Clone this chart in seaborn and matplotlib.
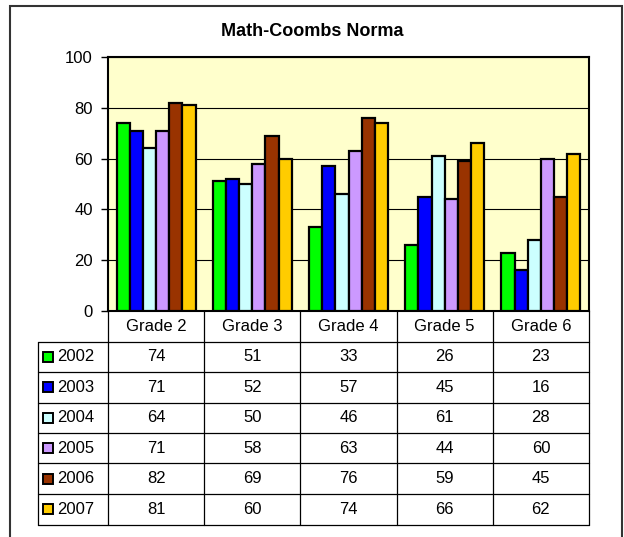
import matplotlib
matplotlib.use("Agg")
import matplotlib.pyplot as plt
import matplotlib.patches as mpatches
import pandas as pd
import seaborn as sns

grades = ["Grade 2", "Grade 3", "Grade 4", "Grade 5", "Grade 6"]
years = ["2002", "2003", "2004", "2005", "2006", "2007"]
scores_2002 = [74, 51, 33, 26, 23]
scores_2003 = [71, 52, 57, 45, 16]
scores_2004 = [64, 50, 46, 61, 28]
scores_2005 = [71, 58, 63, 44, 60]
scores_2006 = [82, 69, 76, 59, 45]
scores_2007 = [81, 60, 74, 66, 62]
colors = ["#00FF00", "#0000FF", "#CCFFFF", "#CC99FF", "#993300", "#FFCC00"]

series = [scores_2002, scores_2003, scores_2004, scores_2005, scores_2006, scores_2007]
rows = []
for yr, vals in zip(years, series):
    for g, v in zip(grades, vals):
        rows.append({"grade": g, "year": yr, "score": v})
df = pd.DataFrame(rows)

sns.set_style("white")
plt.rcParams["font.family"] = ["Liberation Sans", "DejaVu Sans"]
plt.rcParams["text.color"] = "black"
plt.rcParams["ytick.color"] = "black"
plt.rcParams["ytick.labelcolor"] = "black"

fig = plt.figure(figsize=(6.24, 5.37), dpi=100)
ax = fig.add_axes([108 / 624, 1 - 311 / 537, 481 / 624, 254 / 537])
ax.set_facecolor("#FFFFCC")

sns.barplot(data=df, x="grade", y="score", hue="year", order=grades,
            hue_order=years, palette=colors, width=0.82, edgecolor="black",
            linewidth=1.6, saturation=1, legend=False, ax=ax, zorder=3)

ax.set_xlim(-0.5, len(grades) - 0.5)
ax.set_ylim(0, 100)
ax.set_yticks(range(0, 101, 20))
ax.yaxis.grid(True, color="black", linewidth=0.8, zorder=0)
ax.set_axisbelow(True)
ax.tick_params(axis="y", left=True, length=5, width=1, pad=6, labelsize=12, color="black")
ax.set_xticks([])
ax.set_xlabel("")
ax.set_ylabel("")
for s in ax.spines.values():
    s.set_visible(True)
    s.set_color("black")
    s.set_linewidth(1.5)

# data table under the plot
tr = ax.get_xaxis_transform()
rh = 30.5 / 254
lab_w = 70 / 96.2
left = -0.5 - lab_w
right = len(grades) - 0.5
n = len(years)
line_kw = dict(transform=tr, color="black", linewidth=0.9, clip_on=False)

for k in range(1, n + 2):
    y = -k * rh
    ax.plot([left, right], [y, y], **line_kw)
for i in range(len(grades) + 1):
    x = i - 0.5
    ax.plot([x, x], [0, -(n + 1) * rh], **line_kw)
ax.plot([left, left], [-rh, -(n + 1) * rh], **line_kw)

for i, g in enumerate(grades):
    ax.text(i, -0.5 * rh, g, transform=tr, ha="center", va="center", fontsize=12)

for k, (yr, vals, c) in enumerate(zip(years, series, colors)):
    y = -(k + 1.5) * rh
    ax.plot([left + 0.1], [y], marker="s", markersize=7.5, markerfacecolor=c,
            markeredgecolor="black", markeredgewidth=1.4, transform=tr, clip_on=False)
    ax.text(left + 0.2, y, yr, transform=tr, ha="left", va="center", fontsize=12)
    for i, v in enumerate(vals):
        ax.text(i, y, str(v), transform=tr, ha="center", va="center", fontsize=12)

fig.text(0.5, 1 - 32 / 537, "Math-Coombs Norma", ha="center", va="center",
         fontsize=13, fontweight="bold")

frame = mpatches.Rectangle((10 / 624, -0.05), 612 / 624, 1.05 - 6 / 537,
                           transform=fig.transFigure, fill=False,
                           edgecolor="#333333", linewidth=1.5)
fig.patches.append(frame)

fig.savefig("out.png", dpi=100)
